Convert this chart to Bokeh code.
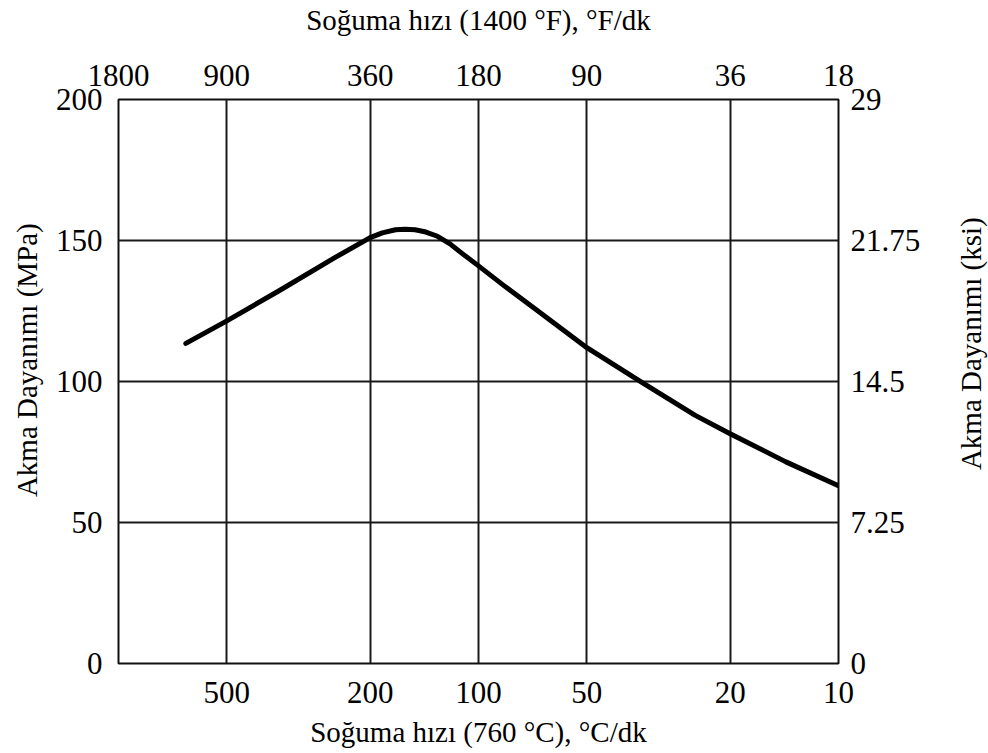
from math import pi

from bokeh.core.properties import value
from bokeh.embed import file_html
from bokeh.layouts import row
from bokeh.resources import INLINE
from bokeh.plotting import figure
from bokeh.models import (Range1d, LogAxis, LinearAxis, LogScale, FixedTicker,
                          CustomJSTickFormatter)

# Yield strength vs. cooling rate (measured at 760 °C)
cooling_rate_c = [650, 500, 360, 250, 200, 185, 170, 160, 150, 140, 130,
                  120, 110, 100, 85, 70, 50, 35, 25, 20, 14, 10]
yield_mpa = [113.5, 121.5, 132, 144, 151, 152.7, 153.8, 154, 153.8, 153,
             151.5, 148.8, 145, 141, 134, 126, 112, 99.5, 88, 81.5, 71.5, 63]

bottom_ticks = [500, 200, 100, 50, 20, 10]
top_ticks = [1800, 900, 360, 180, 90, 36, 18]
left_ticks = [0, 50, 100, 150, 200]
right_ticks = [0, 7.25, 14.5, 21.75, 29]

left_title = "Akma Dayanımı (MPa)"
right_title = "Akma Dayanımı (ksi)"

FONT = "Liberation Serif"
TICK_SIZE = "31px"
TITLE_SIZE = "29px"
H = 753
LEFT_W, RIGHT_W = 52, 36

p = figure(width=988 - LEFT_W - RIGHT_W, height=H, output_backend="svg",
           toolbar_location=None, x_axis_type="log",
           x_range=Range1d(1000, 10), y_range=Range1d(0, 200),
           min_border_left=61, min_border_right=114,
           min_border_top=97, min_border_bottom=90)
p.background_fill_color = "white"
p.border_fill_color = "white"
p.outline_line_color = "#111111"
p.outline_line_width = 2

p.extra_x_ranges = {"F": Range1d(1800, 18)}
p.extra_x_scales = {"F": LogScale()}
p.extra_y_ranges = {"ksi": Range1d(0, 29)}

fmt = CustomJSTickFormatter(code="return String(tick);")


def style(ax, standoff):
    ax.axis_line_color = None
    ax.major_tick_line_color = None
    ax.minor_tick_line_color = None
    ax.major_label_text_font = FONT
    ax.major_label_text_font_size = TICK_SIZE
    ax.major_label_text_color = "black"
    ax.major_label_standoff = standoff
    ax.axis_label_text_font = FONT
    ax.axis_label_text_font_size = TITLE_SIZE
    ax.axis_label_text_font_style = "normal"
    ax.axis_label_text_color = "black"


xb = p.xaxis[0]
xb.ticker = FixedTicker(ticks=bottom_ticks)
xb.formatter = fmt
xb.axis_label = "Soğuma hızı (760 °C), °C/dk"
style(xb, 12)
xb.axis_label_standoff = 10

yl = p.yaxis[0]
yl.ticker = FixedTicker(ticks=left_ticks)
yl.formatter = fmt
style(yl, 10)

xt = LogAxis(x_range_name="F", ticker=FixedTicker(ticks=top_ticks),
             formatter=fmt, axis_label="Soğuma hızı (1400 °F), °F/dk")
style(xt, 8)
xt.axis_label_standoff = 26
p.add_layout(xt, "above")

yr = LinearAxis(y_range_name="ksi", ticker=FixedTicker(ticks=right_ticks),
                formatter=fmt)
style(yr, 6)
p.add_layout(yr, "right")

p.xgrid.ticker = FixedTicker(ticks=bottom_ticks[:-1])
p.ygrid.ticker = FixedTicker(ticks=left_ticks[1:-1])
for g in (p.xgrid[0], p.ygrid[0]):
    g.grid_line_color = "#1a1a1a"
    g.grid_line_width = 2

p.line(cooling_rate_c, yield_mpa, line_color="black", line_width=5,
       line_cap="round", line_join="round")


def side_title(text, w, center_from_top):
    """Narrow strip holding a vertical title that reads bottom-to-top."""
    s = figure(width=w, height=H, output_backend="svg", toolbar_location=None,
               x_range=Range1d(0, w), y_range=Range1d(0, H),
               x_axis_location=None, y_axis_location=None, min_border=0)
    s.outline_line_color = None
    s.grid.visible = False
    s.background_fill_color = "white"
    s.border_fill_color = "white"
    s.text(x=[w / 2], y=[H - center_from_top], text=[text], angle=pi / 2,
           text_font=value(FONT), text_font_size=value(TITLE_SIZE),
           text_align="center", text_baseline="middle", text_color="black")
    return s


layout = row(side_title(left_title, LEFT_W, 348), p,
             side_title(right_title, RIGHT_W, 326))

open("out.html", "w").write(file_html(layout, INLINE))
